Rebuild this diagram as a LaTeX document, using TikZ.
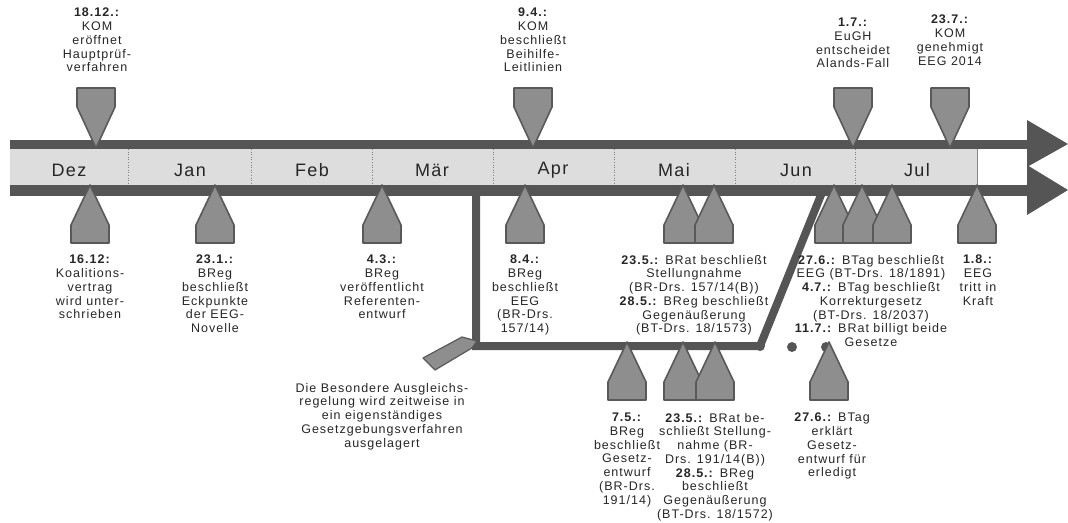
\documentclass[tikz,border=0pt]{standalone}
\usepackage{fontspec}
\setmainfont{Liberation Sans}[LetterSpace=8]
\usetikzlibrary{positioning}

\definecolor{bandgray}{HTML}{555555}
\definecolor{markfill}{HTML}{8E8E8E}
\definecolor{markline}{HTML}{595959}
\definecolor{stripgray}{HTML}{DDDDDD}
\definecolor{txtgray}{HTML}{262626}

\begin{document}
\begin{tikzpicture}[
    x=1pt, y=-1pt,
    band/.style={draw=bandgray, line width=#1},
    branch/.style={draw=bandgray, line width=8pt, line join=miter},
    markshape/.style={fill=markfill, draw=markline, line width=1.6pt, line join=round},
    lbl/.style={font=\fontsize{12.5}{13.7}\selectfont, align=center, text=txtgray, inner sep=0pt, anchor=north},
    month/.style={font=\fontsize{18}{20}\selectfont, text=txtgray, inner sep=0pt},
    downmark/.pic={\path[markshape] (-19,-60) -- (19,-60) -- (19,-41) -- (0,0) -- (-19,-41) -- cycle;},
    upmark/.pic={\path[markshape] (0,0) -- (19,40) -- (19,58) -- (-19,58) -- (-19,40) -- cycle;}
]
    \useasboundingbox (0,0) rectangle (1068,522);

    % month strip
    \fill[stripgray] (10,148) rectangle (977,185);
    \draw[white, fill=white] (977,148) rectangle (1027,185);
    \draw[bandgray!70, line width=0.8pt] (977,148) -- (977,185);
    \foreach \x in {128,251,372,493,614,735,855}
        \draw[gray, dotted, line width=0.6pt] (\x,149) -- (\x,184);
    \foreach \name/\x [count=\i] in {Dez/69,Jan/190,Feb/312,Mär/432,Apr/553,Mai/674,Jun/796,Jul/917}
        \node[month] (m\i) at (\x,170) {\name};

    % the two time arrows
    \path[band=9pt] (10,144) -- (1030,144);
    \path[band=11pt] (10,190) -- (1030,190);
    \fill[bandgray] (1027,120) -- (1068,144) -- (1027,167) -- cycle;
    \fill[bandgray] (1027,165) -- (1068,190) -- (1027,215) -- cycle;

    % side track for the Besondere Ausgleichsregelung
    \coordinate (split) at (476,190);
    \coordinate (corner) at (476,346);
    \coordinate (rejoin) at (760,346);
    \coordinate (merge) at (823,190);
    \path[branch] (split) -- (corner) -- (rejoin) -- (merge);
    \fill[bandgray] (rejoin) circle (5);
    \node[circle, fill=bandgray, inner sep=0pt, minimum size=10pt] (dotA) at (792,347) {};
    \node[circle, fill=bandgray, inner sep=0pt, minimum size=10pt] (dotB) at (826,347) {};
    \path[markshape, line width=1.2pt] (423,358) -- (462,337) -- (477,341) -- (472,348) -- (435,370) -- cycle;

    % markers
    \foreach \x in {96,533,853,950}
        \pic at (\x,148) {downmark};
    \foreach \x in {90,215,382,525,683,714,834,862,892,977}
        \pic at (\x,185) {upmark};
    \foreach \x in {627,683,715,829}
        \pic at (\x,342) {upmark};

    % labels above
    \node[lbl] (kom1812) at (97,8) {\textbf{18.12.:}\\KOM\\eröffnet\\Hauptprüf-\\verfahren};
    \node[lbl] (kom94) at (533,8) {\textbf{9.4.:}\\KOM\\beschließt\\Beihilfe-\\Leitlinien};
    \node[lbl] (eugh17) at (853,18) {\textbf{1.7.:}\\EuGH\\entscheidet\\Alands-Fall};
    \node[lbl] (kom237) at (950,15) {\textbf{23.7.:}\\KOM\\genehmigt\\EEG 2014};

    % labels below
    \node[lbl] (koal1612) at (90,255) {\textbf{16.12:}\\Koalitions-\\vertrag\\wird unter-\\schrieben};
    \node[lbl] (breg231) at (215,255) {\textbf{23.1.:}\\BReg\\beschließt\\Eckpunkte\\der EEG-\\Novelle};
    \node[lbl] (breg43) at (382,255) {\textbf{4.3.:}\\BReg\\veröffentlicht\\Referenten-\\entwurf};
    \node[lbl] (breg84) at (525,255) {\textbf{8.4.:}\\BReg\\beschließt\\EEG\\(BR-Drs.\\157/14)};
    \node[lbl] (brat235) at (694,255) {\textbf{23.5.:} BRat beschließt\\Stellungnahme\\(BR-Drs. 157/14(B))\\\textbf{28.5.:} BReg beschließt\\Gegenäußerung\\(BT-Drs. 18/1573)};
    \node[lbl] (btag276) at (871,255) {\textbf{27.6.:} BTag beschließt\\EEG (BT-Drs. 18/1891)\\\textbf{4.7.:} BTag beschließt\\Korrekturgesetz\\(BT-Drs. 18/2037)\\\textbf{11.7.:} BRat billigt beide\\Gesetze};
    \node[lbl] (eeg18) at (978,255) {\textbf{1.8.:}\\EEG\\tritt in\\Kraft};

    % labels of the side track
    \node[lbl] (bar) at (382,383) {Die Besondere Ausgleichs-\\regelung wird zeitweise in\\ein eigenständiges\\Gesetzgebungsverfahren\\ausgelagert};
    \node[lbl] (breg75) at (627,413) {\textbf{7.5.:}\\BReg\\beschließt\\Gesetz-\\entwurf\\(BR-Drs.\\191/14)};
    \node[lbl] (brat235b) at (715,413) {\textbf{23.5.:} BRat be-\\schließt Stellung-\\nahme (BR-\\Drs. 191/14(B))\\\textbf{28.5.:} BReg\\beschließt\\Gegenäußerung\\(BT-Drs. 18/1572)};
    \node[lbl] (btag276b) at (832,413) {\textbf{27.6.:} BTag\\erklärt\\Gesetz-\\entwurf für\\erledigt};
\end{tikzpicture}
\end{document}
